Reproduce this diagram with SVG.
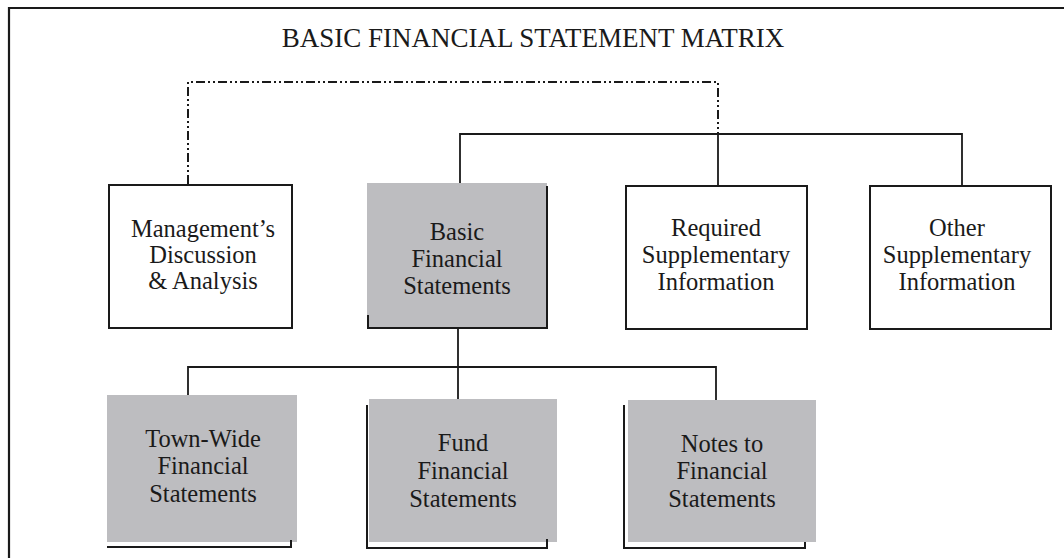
<svg xmlns="http://www.w3.org/2000/svg" width="1064" height="558" viewBox="0 0 1064 558">
<style>
.frame{stroke:#1a1a1a;stroke-width:2.2;fill:none}
.box{fill:#fff;stroke:#1a1a1a;stroke-width:2}
.gray{fill:#bdbdc0;stroke:none}
.edge{fill:none;stroke:#1a1a1a;stroke-width:2}
.conn{fill:none;stroke:#1a1a1a;stroke-width:1.8}
.dash{fill:none;stroke:#1a1a1a;stroke-width:2;stroke-dasharray:9 3 2 3 2 3}
.t{font-family:"Liberation Serif","Times New Roman",serif;font-size:24.5px;fill:#1a1a1a;text-anchor:middle}
.title{font-family:"Liberation Serif","Times New Roman",serif;font-size:27px;fill:#1a1a1a;text-anchor:middle}
</style>
<rect width="1064" height="558" fill="#fff"/>
<g id="frame">
<path class="frame" d="M9 558 V8 H1064"/>
<text class="title" x="533" y="47">BASIC FINANCIAL STATEMENT MATRIX</text>
</g>
<g id="connectors">
<path class="dash" d="M188 184 V82 H718 V134"/>
<path class="conn" d="M460 183 V134 H962 V186 M718 134 V186"/>
<path class="conn" d="M458 328 V399 M188 395 V367 H716 V400"/>
</g>
<g id="mdna">
<rect class="box" x="109" y="185" width="183" height="143"/>
<text class="t" x="203" y="237">Management’s</text>
<text class="t" x="203" y="263">Discussion</text>
<text class="t" x="203" y="289">&amp; Analysis</text>
</g>
<g id="basic">
<rect class="gray" x="367" y="183" width="180" height="144"/>
<path class="edge" d="M547 186 V328 H368 V315"/>
<text class="t" x="457" y="240">Basic</text>
<text class="t" x="457" y="267">Financial</text>
<text class="t" x="457" y="294">Statements</text>
</g>
<g id="required">
<rect class="box" x="626" y="186" width="181" height="143"/>
<text class="t" x="716" y="236">Required</text>
<text class="t" x="716" y="263">Supplementary</text>
<text class="t" x="716" y="290">Information</text>
</g>
<g id="other">
<rect class="box" x="870" y="186" width="181" height="143"/>
<text class="t" x="957" y="236">Other</text>
<text class="t" x="957" y="263">Supplementary</text>
<text class="t" x="957" y="290">Information</text>
</g>
<g id="townwide">
<rect class="gray" x="107" y="395" width="190" height="147"/>
<path class="edge" d="M107 547 H291 V540"/>
<text class="t" x="203" y="447">Town-Wide</text>
<text class="t" x="203" y="474">Financial</text>
<text class="t" x="203" y="502">Statements</text>
</g>
<g id="fund">
<rect class="gray" x="369" y="399" width="188" height="143"/>
<path class="edge" d="M367 405 V548 H547 V539"/>
<text class="t" x="463" y="451">Fund</text>
<text class="t" x="463" y="479">Financial</text>
<text class="t" x="463" y="507">Statements</text>
</g>
<g id="notes">
<rect class="gray" x="628" y="400" width="188" height="142"/>
<path class="edge" d="M624 405 V548 H805 V542"/>
<text class="t" x="722" y="452">Notes to</text>
<text class="t" x="722" y="479">Financial</text>
<text class="t" x="722" y="507">Statements</text>
</g>
</svg>
